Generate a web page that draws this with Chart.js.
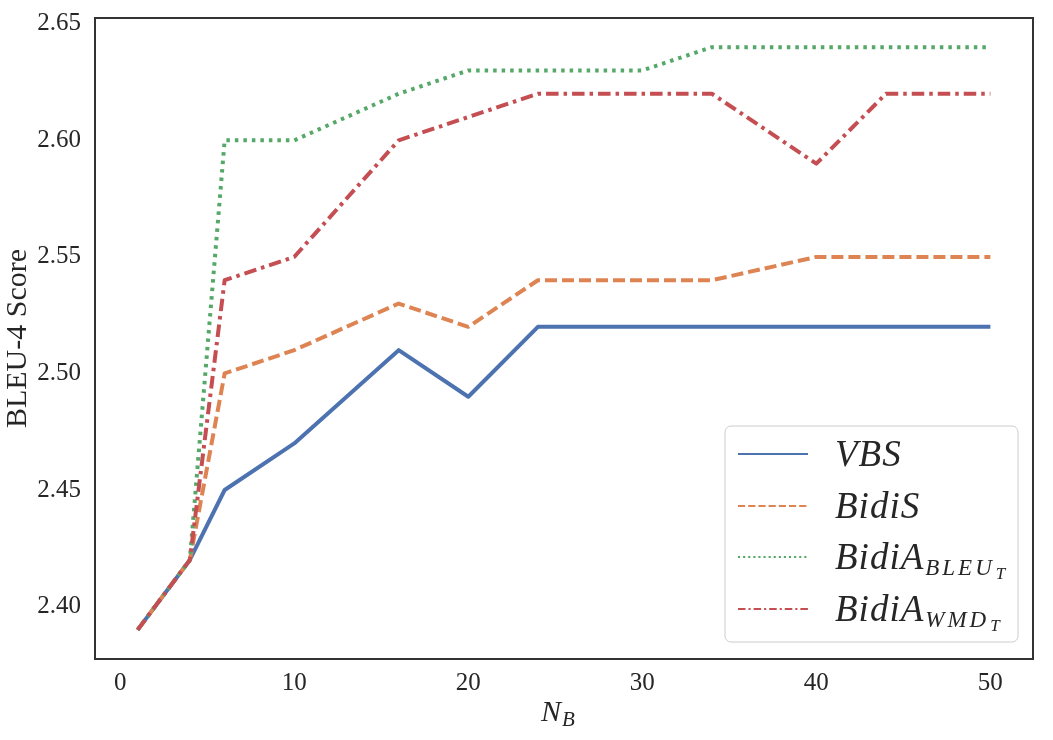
<!DOCTYPE html>
<html>
<head>
<meta charset="utf-8">
<title>BLEU-4 Score vs N_B</title>
<script src="https://cdn.jsdelivr.net/npm/chart.js@4.4.1/dist/chart.umd.min.js"></script>
<style>
  body { margin: 0; background: #ffffff; }
  #wrap { width: 1053px; height: 740px; }
</style>
</head>
<body>
<div id="wrap"><canvas id="scoreChart" width="1053" height="740"></canvas></div>
<script>
// Data
const nbValues = [1, 4, 6, 10, 16, 20, 24, 30, 34, 40, 44, 50];
const vbsScores = [2.39, 2.42, 2.45, 2.47, 2.51, 2.49, 2.52, 2.52, 2.52, 2.52, 2.52, 2.52];
const bidiSScores = [2.39, 2.42, 2.50, 2.51, 2.53, 2.52, 2.54, 2.54, 2.54, 2.55, 2.55, 2.55];
const bidiABleuScores = [2.39, 2.42, 2.60, 2.60, 2.62, 2.63, 2.63, 2.63, 2.64, 2.64, 2.64, 2.64];
const bidiAWmdScores = [2.39, 2.42, 2.54, 2.55, 2.60, 2.61, 2.62, 2.62, 2.62, 2.59, 2.62, 2.62];

const xTicks = [0, 10, 20, 30, 40, 50];
const yTicks = [2.40, 2.45, 2.50, 2.55, 2.60, 2.65];

// legend names: [main, subscript, sub-subscript]
const legendNames = [
  ['VBS', '', ''],
  ['BidiS', '', ''],
  ['BidiA', 'BLEU', 'T'],
  ['BidiA', 'WMD', 'T']
];

const serif = '"Liberation Serif", "DejaVu Serif", serif';
const textColor = '#262626';

const seriesStyle = [
  { color: '#4C72B0', dash: [] },
  { color: '#DD8452', dash: [12, 5] },
  { color: '#55A868', dash: [3.5, 5] },
  { color: '#C44E52', dash: [12.5, 5, 3.5, 5] }
];

function toPoints(values) {
  return values.map((v, i) => ({ x: nbValues[i], y: v }));
}

// draws text with a subscript and a sub-subscript
function drawMathText(ctx, x, y, parts, sizes, drops, spacing) {
  let cx = x;
  parts.forEach((t, k) => {
    if (!t) return;
    ctx.font = 'italic ' + sizes[k] + 'px ' + serif;
    ctx.letterSpacing = spacing[k] + 'px';
    ctx.fillText(t, cx, y + drops[k]);
    cx += ctx.measureText(t).width + 1;
  });
  ctx.letterSpacing = '0px';
}

// frame, x title and the legend
const extrasPlugin = {
  id: 'extras',
  afterDraw(chart) {
    const ctx = chart.ctx;
    const a = chart.chartArea;
    ctx.save();
    ctx.strokeStyle = '#333333';
    ctx.lineWidth = 2;
    ctx.strokeRect(a.left, a.top, a.right - a.left, a.bottom - a.top);

    // x axis title N_B
    ctx.fillStyle = textColor;
    ctx.textBaseline = 'alphabetic';
    ctx.textAlign = 'left';
    drawMathText(ctx, 541, 721, ['N', 'B', ''], [30, 21, 14], [0, 5, 0], [0, 0, 0]);

    // legend box
    const bx = 725, by = 426, bw = 293, bh = 216, r = 6;
    ctx.beginPath();
    ctx.moveTo(bx + r, by);
    ctx.arcTo(bx + bw, by, bx + bw, by + bh, r);
    ctx.arcTo(bx + bw, by + bh, bx, by + bh, r);
    ctx.arcTo(bx, by + bh, bx, by, r);
    ctx.arcTo(bx, by, bx + bw, by, r);
    ctx.closePath();
    ctx.fillStyle = 'rgba(255,255,255,0.85)';
    ctx.fill();
    ctx.strokeStyle = '#cccccc';
    ctx.lineWidth = 1;
    ctx.stroke();

    const rowY = [454, 506, 557, 609];
    legendNames.forEach((name, i) => {
      const st = seriesStyle[i];
      ctx.beginPath();
      ctx.strokeStyle = st.color;
      ctx.lineWidth = 2;
      ctx.setLineDash(st.dash.map(d => d * 0.6));
      ctx.moveTo(738, rowY[i]);
      ctx.lineTo(808, rowY[i]);
      ctx.stroke();
      ctx.setLineDash([]);
      ctx.fillStyle = textColor;
      drawMathText(ctx, 835, rowY[i] + 12, name, [37, 23, 17], [0, 6, 10], [1, 3, 0]);
    });
    ctx.restore();
  }
};

const ctx = document.getElementById('scoreChart').getContext('2d');
const scoreChart = new Chart(ctx, {
  type: 'line',
  data: {
    datasets: [
      { label: 'VBS', data: toPoints(vbsScores), order: 3 },
      { label: 'BidiS', data: toPoints(bidiSScores), order: 2 },
      { label: 'BidiA_BLEU_T', data: toPoints(bidiABleuScores), order: 1 },
      { label: 'BidiA_WMD_T', data: toPoints(bidiAWmdScores), order: 0 }
    ].map((ds, i) => Object.assign(ds, {
      borderColor: seriesStyle[i].color,
      backgroundColor: seriesStyle[i].color,
      borderDash: seriesStyle[i].dash,
      borderWidth: 4,
      borderJoinStyle: 'round',
      pointRadius: 0,
      tension: 0,
      fill: false
    }))
  },
  options: {
    responsive: false,
    animation: false,
    layout: { padding: { top: 18, right: 20, left: 0, bottom: 0 } },
    plugins: {
      legend: { display: false },
      tooltip: { enabled: false }
    },
    scales: {
      x: {
        type: 'linear',
        min: -1.45,
        max: 52.45,
        grid: { display: false, drawTicks: false },
        border: { display: false },
        afterBuildTicks: s => { s.ticks = xTicks.map(v => ({ value: v })); },
        afterFit: s => { s.height = 81; s.paddingLeft = 0; s.paddingRight = 0; },
        ticks: {
          padding: 9,
          color: textColor,
          font: { family: serif, size: 25 },
          callback: v => String(v)
        }
      },
      y: {
        type: 'linear',
        min: 2.3775,
        max: 2.6525,
        grid: { display: false, drawTicks: false },
        border: { display: false },
        afterBuildTicks: s => { s.ticks = yTicks.map(v => ({ value: v })); },
        afterFit: s => { s.width = 95; s.paddingTop = 0; s.paddingBottom = 0; },
        ticks: {
          padding: 14,
          color: textColor,
          font: { family: serif, size: 25 },
          callback: v => Number(v).toFixed(2)
        },
        title: {
          display: true,
          text: 'BLEU-4 Score',
          color: textColor,
          font: { family: serif, size: 30 },
          padding: { top: 0, bottom: 0 }
        }
      }
    }
  },
  plugins: [extrasPlugin]
});
</script>
</body>
</html>
